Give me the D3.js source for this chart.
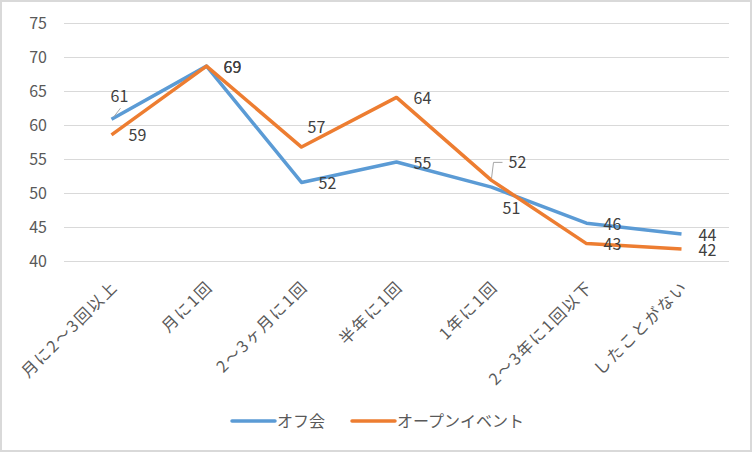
<!DOCTYPE html>
<html>
<head>
<meta charset="utf-8">
<script src="https://cdn.jsdelivr.net/npm/d3@7"></script>
<style>
  body { margin: 0; background: #fff; }
  text { font-family: "Noto Sans CJK JP", "Noto Sans", sans-serif; }
</style>
</head>
<body>
<div id="container"></div>
<script>
// categories and series values
var categories = ['月に2～3回以上', '月に1回', '2～3ヶ月に1回', '半年に1回', '1年に1回', '2～3年に1回以下', 'したことがない'];
var offkai = [60.9, 68.7, 51.6, 54.6, 50.9, 45.6, 44.0];
var openEvent = [58.6, 68.7, 56.8, 64.1, 51.9, 42.6, 41.8];
var seriesNames = ['オフ会', 'オープンイベント'];
var yTicks = [40, 45, 50, 55, 60, 65, 70, 75];

//Width and height
var w = 752;
var h = 452;

var colors = ['#5b9bd5', '#ed7d31'];

// label nudges (Excel default is right of the point)
var nudge = [
    { 0: [-1, -23], 4: [11, 21] },
    { 2: [6, -20], 4: [17, -18] }
];

var svg = d3.select('#container')
    .append('svg')
    .attr('width', w)
    .attr('height', h);

// chart border
svg.append('rect')
    .attr('x', 1)
    .attr('y', 1)
    .attr('width', w - 2)
    .attr('height', h - 2)
    .attr('fill', '#fff')
    .attr('stroke', '#d9d9d9')
    .attr('stroke-width', 2);

var x = d3.scalePoint()
    .domain(categories)
    .range([64, 729])
    .padding(0.5);

var y = d3.scaleLinear()
    .domain([40, 75])
    .range([261.3, 23.3]);

// gridlines
svg.append('g')
    .selectAll('line')
    .data(yTicks)
    .enter()
    .append('line')
    .attr('x1', 64)
    .attr('x2', 729)
    .attr('y1', function(d) { return Math.round(y(d)) + 0.5; })
    .attr('y2', function(d) { return Math.round(y(d)) + 0.5; })
    .attr('stroke', '#d9d9d9')
    .attr('stroke-width', 1);

// y axis labels
var yAxis = d3.axisLeft(y)
    .tickValues(yTicks)
    .tickSize(0)
    .tickPadding(0);

var yG = svg.append('g')
    .attr('transform', 'translate(47,0)')
    .call(yAxis);
yG.select('.domain').remove();
yG.selectAll('text')
    .attr('fill', '#595959')
    .style('font-size', '16px');

// x axis labels, rotated
var xAxis = d3.axisBottom(x)
    .tickSize(0)
    .tickPadding(0);

var xG = svg.append('g')
    .attr('transform', 'translate(0,280)')
    .call(xAxis);
xG.select('.domain').remove();
xG.selectAll('text')
    .attr('fill', '#595959')
    .style('font-size', '16px')
    .style('letter-spacing', '1.8px')
    .attr('text-anchor', 'end')
    .attr('y', 0)
    .attr('dy', '0.7em')
    .attr('transform', 'translate(-1,0) rotate(-45)');

var line = d3.line()
    .x(function(d, i) { return x(categories[i]); })
    .y(function(d) { return y(d); });

var allSeries = [offkai, openEvent];

allSeries.forEach(function(s, si) {
    svg.append('path')
        .datum(s)
        .attr('fill', 'none')
        .attr('stroke', colors[si])
        .attr('stroke-width', 3.5)
        .attr('stroke-linejoin', 'round')
        .attr('d', line);
});

// leader lines for moved labels
var leaders = [
    { s: 0, i: 0, pts: [[2, -2], [9, -11]] },
    { s: 1, i: 4, pts: [[0, -2], [2, -18], [11, -18]] }
];
leaders.forEach(function(l) {
    var px = x(categories[l.i]);
    var py = y(allSeries[l.s][l.i]);
    svg.append('polyline')
        .attr('points', l.pts.map(function(p) { return (px + p[0]) + ',' + (py + p[1]); }).join(' '))
        .attr('fill', 'none')
        .attr('stroke', '#a6a6a6')
        .attr('stroke-width', 1);
});

// data labels
allSeries.forEach(function(s, si) {
    svg.append('g')
        .selectAll('text')
        .data(s)
        .enter()
        .append('text')
        .attr('x', function(d, i) {
            var n = nudge[si][i] || [17, 1];
            return x(categories[i]) + n[0];
        })
        .attr('y', function(d, i) {
            var n = nudge[si][i] || [17, 1];
            return y(d) + n[1];
        })
        .attr('dy', '0.35em')
        .attr('fill', '#404040')
        .style('font-size', '16px')
        .text(function(d) { return d3.format('.0f')(d); });
});

// legend
var legendX = [232, 352];
var legend = svg.append('g')
    .selectAll('g')
    .data(seriesNames)
    .enter()
    .append('g')
    .attr('transform', function(d, i) { return 'translate(' + legendX[i] + ',421)'; });

legend.append('line')
    .attr('x1', 0)
    .attr('x2', 43)
    .attr('stroke', function(d, i) { return colors[i]; })
    .attr('stroke-width', 3.5)
    .attr('stroke-linecap', 'round');

legend.append('text')
    .attr('x', 45)
    .attr('dy', '0.35em')
    .attr('fill', '#595959')
    .style('font-size', '16px')
    .text(function(d) { return d; });
</script>
</body>
</html>
